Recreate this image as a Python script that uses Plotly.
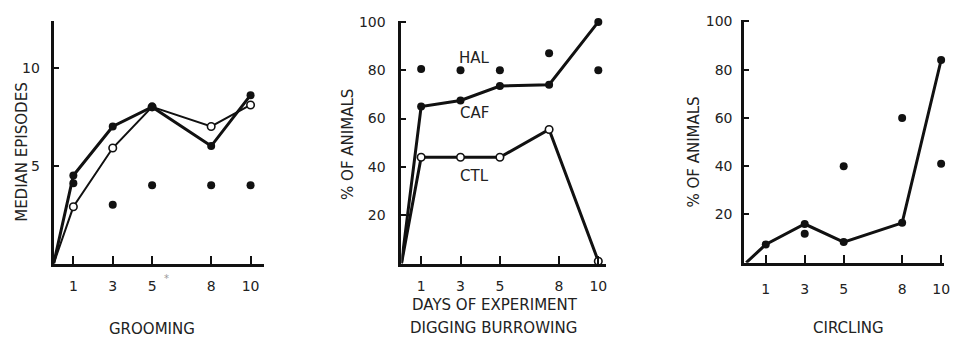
import plotly.graph_objects as go

W, H = 957, 340

# ---------------- data ----------------
# Panel 1: GROOMING (median episodes)
g_days = [0, 1, 3, 5, 8, 10]
g_filled = [0, 4.5, 7.0, 8.0, 6.0, 8.6]
g_open = [0, 2.9, 5.9, 8.0, 7.0, 8.1]
g_dot_days = [1, 3, 5, 8, 10]
g_dots = [4.1, 3.0, 4.0, 4.0, 4.0]
g_xticks = [1, 3, 5, 8, 10]
g_xticktext = ["1", "3", "5", "8", "10"]
g_yticks = [5, 10]

# Panel 2: DIGGING BURROWING (% of animals)
d_days = [0, 1, 3, 5, 7.5, 10]
d_caf = [0, 65, 67.5, 73.5, 74, 100]
d_ctl = [0, 44, 44, 44, 55.5, 1]
d_hal_days = [1, 3, 5, 7.5, 10]
d_hal = [80.5, 80, 80, 87, 80]
d_xticks = [1, 3, 5, 8, 10]
d_xticktext = ["1", "3", "5", "8", "10"]
pct_yticks = [20, 40, 60, 80, 100]

# Panel 3: CIRCLING (% of animals)
c_days = [0, 1, 3, 5, 8, 10]
c_line = [0, 7.5, 16, 8.5, 16.5, 84]
c_dot_days = [3, 5, 8, 10]
c_dots = [12, 40, 60, 41]
c_xticks = [1, 3, 5, 8, 10]
c_xticktext = ["1", "3", "5", "8", "10"]

# ---------------- helpers ----------------
def px(x):
    return x / W

def py(y):
    return 1 - y / H

INK = "#111111"
FONT = "DejaVu Sans"

fig = go.Figure()

def line(xs, ys, xa, ya, width):
    fig.add_trace(go.Scatter(x=xs, y=ys, mode="lines", xaxis=xa, yaxis=ya,
                             line=dict(color=INK, width=width),
                             cliponaxis=False, showlegend=False, hoverinfo="skip"))

def dots(xs, ys, xa, ya, filled=True):
    if filled:
        m = dict(symbol="circle", size=8, color=INK, line=dict(width=0))
    else:
        m = dict(symbol="circle", size=7.5, color="#ffffff", line=dict(color=INK, width=1.6))
    fig.add_trace(go.Scatter(x=xs, y=ys, mode="markers", xaxis=xa, yaxis=ya,
                             marker=m, opacity=1,
                             cliponaxis=False, showlegend=False))

# Panel 1
line(g_days, g_open, "x", "y", 2)
line(g_days, g_filled, "x", "y", 3)
dots(g_days[1:], g_open[1:], "x", "y", filled=False)
dots(g_days[1:], g_filled[1:], "x", "y")
dots(g_dot_days, g_dots, "x", "y")

# Panel 2
line(d_days, d_ctl, "x2", "y2", 3)
line(d_days, d_caf, "x2", "y2", 3)
dots(d_days[1:], d_ctl[1:], "x2", "y2", filled=False)
dots(d_days[1:], d_caf[1:], "x2", "y2")
dots(d_hal_days, d_hal, "x2", "y2")

# Panel 3
line(c_days, c_line, "x3", "y3", 3)
dots(c_days[1:], c_line[1:], "x3", "y3")
dots(c_dot_days, c_dots, "x3", "y3")

tickfont = dict(family=FONT, size=14, color="#222222")

def xax(dom, rng, tv, tt, anchor, standoff):
    return dict(domain=dom, range=rng, anchor=anchor, showline=True, linewidth=3, linecolor=INK,
                showgrid=False, zeroline=False, ticks="inside", ticklen=8, tickwidth=2,
                tickcolor=INK, tickvals=tv, ticktext=tt, tickfont=tickfont,
                ticklabelstandoff=standoff, fixedrange=True)

def yax(dom, rng, tv, anchor, standoff):
    return dict(domain=dom, range=rng, anchor=anchor, showline=True, linewidth=3, linecolor=INK,
                showgrid=False, zeroline=False, ticks="inside", ticklen=5, tickwidth=2,
                tickcolor=INK, tickvals=tv, tickfont=tickfont,
                ticklabelstandoff=standoff, fixedrange=True)

ydom12 = [py(262), py(14)]
ydom3 = [py(261), py(13.5)]

fig.update_layout(
    width=W, height=H,
    margin=dict(l=0, r=0, t=0, b=0),
    paper_bgcolor="white", plot_bgcolor="white",
    xaxis=xax([px(54), px(266)], [0, 10.7], g_xticks, g_xticktext, "y", 8),
    yaxis=yax(ydom12, [0, 12.4], g_yticks, "x", 8),
    xaxis2=xax([px(404), px(610)], [0, 10.4], d_xticks, d_xticktext, "y2", 8),
    yaxis2=yax(ydom12, [0, 100.5], pct_yticks, "x2", 10),
    xaxis3=xax([px(749), px(950)], [-0.1, 10.15], c_xticks, c_xticktext, "y3", 12),
    yaxis3=yax(ydom3, [0, 100.5], pct_yticks, "x3", 6),
)

def note(text, x, y, size=15, angle=0, color="#222222"):
    fig.add_annotation(text=text, x=px(x), y=py(y), xref="paper", yref="paper",
                       showarrow=False, textangle=angle, xanchor="center", yanchor="middle",
                       font=dict(family=FONT, size=size, color=color))

note("MEDIAN EPISODES", 22, 148, angle=-90)
note("GROOMING", 153, 329)
note("*", 168, 277, size=10, color="#999999")
note("% OF ANIMALS", 350, 140, angle=-90)
note("DAYS OF EXPERIMENT", 498, 304)
note("DIGGING BURROWING", 497, 328)
note("HAL", 477, 52)
note("CAF", 477, 108)
note("CTL", 477, 173)
note("% OF ANIMALS", 698, 148, angle=-90)
note("CIRCLING", 854, 328)

fig.write_html("out.html")
